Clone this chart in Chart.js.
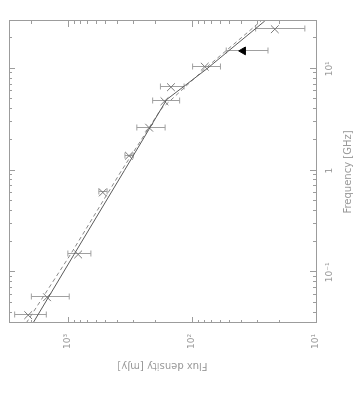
<!DOCTYPE html>
<html>
<head>
<meta charset="utf-8">
<script src="https://cdn.jsdelivr.net/npm/chart.js@4.4.0/dist/chart.umd.min.js"></script>
<style>
  html, body { margin: 0; padding: 0; background: #fff; }
  #wrap { position: relative; width: 354px; height: 393px; overflow: hidden; }
  /* the plot is drawn upright and then turned a quarter left, like the scan */
  #spec { position: absolute; left: 0; top: 393px; transform-origin: 0 0; transform: rotate(-90deg); }
</style>
</head>
<body>
<div id="wrap"><canvas id="spec" width="393" height="354"></canvas></div>
<script>
// measured points (GHz, mJy)
const freqGHz = [0.038, 0.057, 0.15, 0.61, 1.4, 2.64, 4.8, 6.6, 10.5, 24.5];
const fluxMJy = [2100, 1480, 830, 525, 323, 222, 167, 148, 79, 21.5];
const fluxErr = [600, 500, 175, 40, 25, 57, 41, 32, 20, 9.2];

// the filled triangle at 15 GHz
const limitFreq = [15];
const limitFlux = [38.7];
const limitErr = [14.3];

// model curves
const solidFreq = [0.0318, 0.15, 1, 5, 10, 15, 29.5];
const solidFlux = [1919, 896, 352, 160, 76, 50.8, 25.9];
const dashFreq = [0.0318, 0.15, 1, 4, 10, 15, 29.5];
const dashFlux = [2178, 957, 371, 178.6, 79, 53.4, 27.8];

// axes
const freqMajor = [0.1, 1, 10];
const freqLabels = ['10⁻¹', '1', '10¹'];
const freqMinor = [0.04, 0.05, 0.06, 0.07, 0.08, 0.09, 0.2, 0.3, 0.4, 0.5, 0.6, 0.7, 0.8, 0.9,
                   2, 3, 4, 5, 6, 7, 8, 9, 20];
const fluxMajor = [10, 100, 1000];
const fluxLabels = ['10¹', '10²', '10³'];
const fluxMinor = [20, 30, 40, 50, 60, 70, 80, 90, 200, 300, 400, 500, 600, 700, 800, 900, 2000];

const pts = (xs, ys) => xs.map((v, i) => ({ x: v, y: ys[i] }));
const axisGrey = '#9c9c9c';
const textGrey = '#9a9a9a';

Chart.defaults.font.family = "'DejaVu Sans', sans-serif";

const boxPlugin = {
  id: 'boxPlugin',
  beforeDatasetsDraw(chart) {
    const { ctx, scales: { x, y } } = chart;
    ctx.save();
    ctx.strokeStyle = '#a0a0a0';
    ctx.lineWidth = 1;
    const bars = (fs, ss, es) => fs.forEach((f, i) => {
      const px = Math.round(x.getPixelForValue(f)) + 0.5;
      const lo = y.getPixelForValue(ss[i] - es[i]);
      const hi = y.getPixelForValue(ss[i] + es[i]);
      ctx.beginPath();
      ctx.moveTo(px, lo); ctx.lineTo(px, hi);
      ctx.moveTo(px - 3, lo); ctx.lineTo(px + 3, lo);
      ctx.moveTo(px - 3, hi); ctx.lineTo(px + 3, hi);
      ctx.stroke();
    });
    bars(freqGHz, fluxMJy, fluxErr);
    bars(limitFreq, limitFlux, limitErr);
    ctx.restore();
  },
  afterDraw(chart) {
    const { ctx, chartArea: a, scales: { x, y } } = chart;
    ctx.save();
    ctx.strokeStyle = axisGrey;
    ctx.lineWidth = 1;
    ctx.strokeRect(Math.round(a.left) + 0.5, Math.round(a.top) + 0.5,
                   Math.round(a.right - a.left), Math.round(a.bottom - a.top));
    // inward ticks on all four sides
    const tickX = (vals, len) => vals.forEach(v => {
      const px = Math.round(x.getPixelForValue(v)) + 0.5;
      ctx.beginPath();
      ctx.moveTo(px, a.bottom); ctx.lineTo(px, a.bottom - len);
      ctx.moveTo(px, a.top); ctx.lineTo(px, a.top + len);
      ctx.stroke();
    });
    const tickY = (vals, len) => vals.forEach(v => {
      const py = Math.round(y.getPixelForValue(v)) + 0.5;
      ctx.beginPath();
      ctx.moveTo(a.left, py); ctx.lineTo(a.left + len, py);
      ctx.moveTo(a.right, py); ctx.lineTo(a.right - len, py);
      ctx.stroke();
    });
    tickX(freqMajor, 6); tickX(freqMinor, 3);
    tickY(fluxMajor, 6); tickY(fluxMinor, 3);
    ctx.restore();
  }
};

// invisible outer tick marks just push the labels away from the frame
const hiddenGrid = len => ({
  display: true, drawOnChartArea: false, drawTicks: true,
  tickLength: len, color: 'rgba(0,0,0,0)'
});

new Chart(document.getElementById('spec'), {
  type: 'scatter',
  data: {
    datasets: [
      {
        data: pts(solidFreq, solidFlux), showLine: true,
        borderColor: '#5a5a5a', borderWidth: 1, pointRadius: 0
      },
      {
        data: pts(dashFreq, dashFlux), showLine: true,
        borderColor: '#8a8a8a', borderWidth: 1, borderDash: [4, 3], pointRadius: 0
      },
      {
        data: pts(freqGHz, fluxMJy),
        pointStyle: 'crossRot', pointRadius: 5.5, borderColor: '#7a7a7a', borderWidth: 1
      },
      {
        data: pts(limitFreq, limitFlux),
        pointStyle: 'triangle', pointRadius: 4.5, backgroundColor: '#000', borderColor: '#000', borderWidth: 1
      }
    ]
  },
  options: {
    responsive: false,
    animation: false,
    layout: { padding: { top: 9, right: 21, left: 0, bottom: 0 } },
    plugins: { legend: { display: false }, tooltip: { enabled: false } },
    scales: {
      x: {
        type: 'logarithmic', min: 0.0318, max: 29.5,
        grid: hiddenGrid(8), border: { display: false },
        afterBuildTicks: s => { s.ticks = freqMajor.map(v => ({ value: v })); },
        afterFit: s => { s.height = 38; },
        ticks: {
          callback: (v, i) => freqLabels[i], padding: 0, color: textGrey,
          font: { size: 9 }, maxRotation: 0, autoSkip: false
        },
        title: {
          display: true, text: 'Frequency [GHz]', color: textGrey,
          font: { size: 10 }, padding: { top: 8, bottom: 0 }
        }
      },
      y: {
        type: 'logarithmic', min: 10, max: 3000,
        grid: hiddenGrid(11), border: { display: false },
        afterBuildTicks: s => { s.ticks = fluxMajor.map(v => ({ value: v })); },
        afterFit: s => { s.width = 70; },
        ticks: {
          callback: (v, i) => fluxLabels[i], padding: 0, color: textGrey,
          font: { size: 9 }, autoSkip: false
        },
        title: {
          display: true, text: 'Flux density [mJy]', color: textGrey,
          font: { size: 10 }, padding: { top: 21, bottom: 0 }
        }
      }
    }
  },
  plugins: [boxPlugin]
});
</script>
</body>
</html>
